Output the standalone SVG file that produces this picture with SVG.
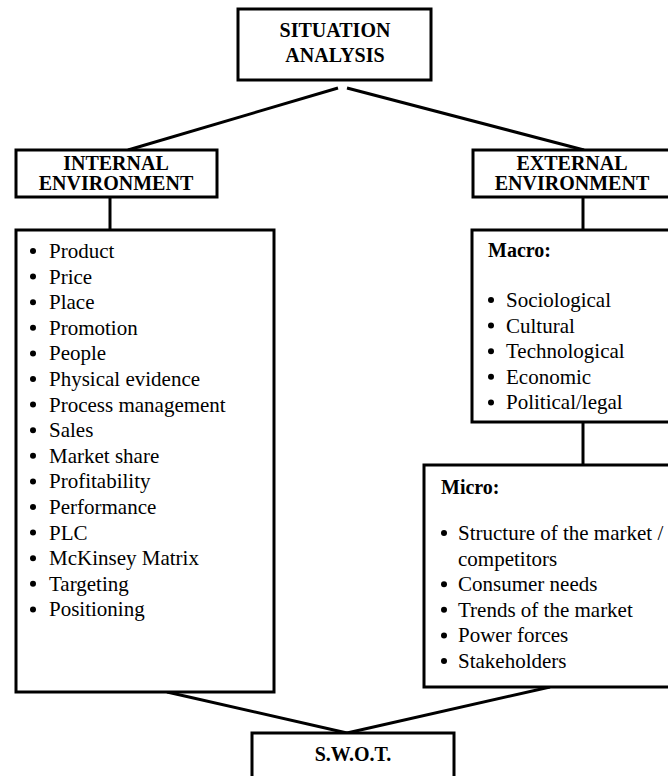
<svg xmlns="http://www.w3.org/2000/svg" width="668" height="776" viewBox="0 0 668 776">
<style>
.box{fill:#fff;stroke:#000;stroke-width:3}
.ln{stroke:#000;stroke-width:3;fill:none}
.h{font-family:"Liberation Serif","Times New Roman",serif;font-weight:bold;font-size:20px;text-anchor:middle;fill:#000}
.hl{font-family:"Liberation Serif","Times New Roman",serif;font-weight:bold;font-size:20px;fill:#000}
.t{font-family:"Liberation Serif","Times New Roman",serif;font-size:21px;fill:#000}
</style>
<rect width="668" height="776" fill="#fff"/>
<g id="connectors">
<line class="ln" x1="338" y1="88" x2="128" y2="150"/>
<line class="ln" x1="347" y1="88" x2="584" y2="150"/>
<line class="ln" x1="110" y1="197" x2="110" y2="230"/>
<line class="ln" x1="583" y1="197" x2="583" y2="230"/>
<line class="ln" x1="583" y1="422" x2="583" y2="465"/>
<line class="ln" x1="167" y1="692" x2="347" y2="733"/>
<line class="ln" x1="550" y1="687" x2="347" y2="733"/>
</g>
<g id="situation">
<rect class="box" x="238" y="9" width="193" height="71"/>
<text class="h" x="335" y="37">SITUATION</text>
<text class="h" x="335" y="62">ANALYSIS</text>
</g>
<g id="internal">
<rect class="box" x="16" y="150" width="201" height="47"/>
<text class="h" x="116" y="170">INTERNAL</text>
<text class="h" x="116" y="190">ENVIRONMENT</text>
</g>
<g id="external">
<rect class="box" x="473" y="150" width="202" height="47"/>
<text class="h" x="572" y="170">EXTERNAL</text>
<text class="h" x="572" y="190">ENVIRONMENT</text>
</g>
<g id="internal-list">
<rect class="box" x="16" y="230" width="258" height="462"/>
<g class="t">
<circle cx="33" cy="251" r="3"/><text x="49" y="258">Product</text>
<circle cx="33" cy="276.6" r="3"/><text x="49" y="283.6">Price</text>
<circle cx="33" cy="302.2" r="3"/><text x="49" y="309.2">Place</text>
<circle cx="33" cy="327.8" r="3"/><text x="49" y="334.8">Promotion</text>
<circle cx="33" cy="353.4" r="3"/><text x="49" y="360.4">People</text>
<circle cx="33" cy="379" r="3"/><text x="49" y="386">Physical evidence</text>
<circle cx="33" cy="404.6" r="3"/><text x="49" y="411.6">Process management</text>
<circle cx="33" cy="430.2" r="3"/><text x="49" y="437.2">Sales</text>
<circle cx="33" cy="455.8" r="3"/><text x="49" y="462.8">Market share</text>
<circle cx="33" cy="481.4" r="3"/><text x="49" y="488.4">Profitability</text>
<circle cx="33" cy="507" r="3"/><text x="49" y="514">Performance</text>
<circle cx="33" cy="532.6" r="3"/><text x="49" y="539.6">PLC</text>
<circle cx="33" cy="558.2" r="3"/><text x="49" y="565.2">McKinsey Matrix</text>
<circle cx="33" cy="583.8" r="3"/><text x="49" y="590.8">Targeting</text>
<circle cx="33" cy="609.4" r="3"/><text x="49" y="616.4">Positioning</text>
</g>
</g>
<g id="macro">
<rect class="box" x="472" y="230" width="210" height="192"/>
<text class="hl" x="488" y="257">Macro:</text>
<g class="t">
<circle cx="491" cy="300" r="3"/><text x="506" y="307">Sociological</text>
<circle cx="491" cy="325.6" r="3"/><text x="506" y="332.6">Cultural</text>
<circle cx="491" cy="351.2" r="3"/><text x="506" y="358.2">Technological</text>
<circle cx="491" cy="376.8" r="3"/><text x="506" y="383.8">Economic</text>
<circle cx="491" cy="402.4" r="3"/><text x="506" y="409.4">Political/legal</text>
</g>
</g>
<g id="micro">
<rect class="box" x="424" y="465" width="260" height="222"/>
<text class="hl" x="441" y="494">Micro:</text>
<g class="t">
<circle cx="444" cy="533" r="3"/><text x="458" y="540">Structure of the market /</text>
<text x="458" y="565.6">competitors</text>
<circle cx="444" cy="584.2" r="3"/><text x="458" y="591.2">Consumer needs</text>
<circle cx="444" cy="609.8" r="3"/><text x="458" y="616.8">Trends of the market</text>
<circle cx="444" cy="635.4" r="3"/><text x="458" y="642.4">Power forces</text>
<circle cx="444" cy="661" r="3"/><text x="458" y="668">Stakeholders</text>
</g>
</g>
<g id="swot">
<rect class="box" x="252" y="733" width="202" height="60"/>
<text class="h" x="353" y="761">S.W.O.T.</text>
</g>
</svg>
